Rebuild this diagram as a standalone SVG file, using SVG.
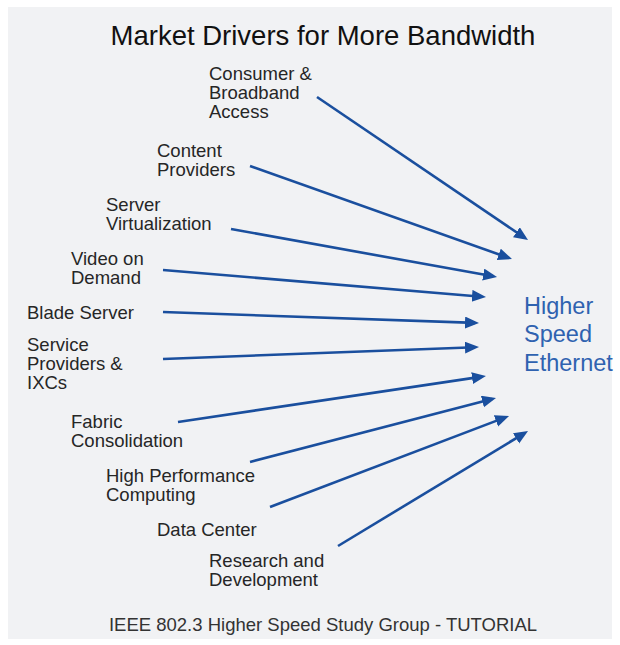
<svg xmlns="http://www.w3.org/2000/svg" width="620" height="645" viewBox="0 0 620 645">
<defs>
<style>
.lbl{font-family:"Liberation Sans",Arial,sans-serif;font-size:18.5px;fill:#262626}
.title{font-family:"Liberation Sans",Arial,sans-serif;font-size:27.5px;fill:#111}
.foot{font-family:"Liberation Sans",Arial,sans-serif;font-size:18.5px;fill:#333}
.hse{font-family:"Liberation Sans",Arial,sans-serif;font-size:23.5px;fill:#2f62b0}
.con line{stroke:#1a4f9e;stroke-width:2.6;fill:none;marker-end:url(#ah)}
</style>
<marker id="ah" markerUnits="userSpaceOnUse" markerWidth="16" markerHeight="14" refX="10" refY="6" orient="auto">
<path d="M0,0 L14,6 L0,12 z" fill="#1a4f9e"/>
</marker>
</defs>
<rect x="8" y="7" width="604" height="632" fill="#f1f2f4"/>
<text class="title" x="323" y="45" text-anchor="middle">Market Drivers for More Bandwidth</text>
<g class="con" id="connectors">
<line x1="317" y1="97" x2="524.7" y2="237.8"/>
<line x1="250" y1="166" x2="508.2" y2="257.7"/>
<line x1="231" y1="229" x2="493.1" y2="276.3"/>
<line x1="163" y1="270" x2="482" y2="296.7"/>
<line x1="163" y1="312" x2="475" y2="322.9"/>
<line x1="163" y1="359" x2="475" y2="347.2"/>
<line x1="178" y1="422" x2="482" y2="376.6"/>
<line x1="250" y1="462" x2="492.1" y2="399"/>
<line x1="270" y1="507" x2="505.3" y2="417.4"/>
<line x1="338" y1="546" x2="524.6" y2="433.1"/>
</g>
<g id="consumer"><text class="lbl" x="209" y="80">Consumer &amp;</text><text class="lbl" x="209" y="99">Broadband</text><text class="lbl" x="209" y="118">Access</text></g>
<g id="content"><text class="lbl" x="157" y="157">Content</text><text class="lbl" x="157" y="176">Providers</text></g>
<g id="server-virt"><text class="lbl" x="106" y="211">Server</text><text class="lbl" x="106" y="230">Virtualization</text></g>
<g id="video"><text class="lbl" x="71" y="265">Video on</text><text class="lbl" x="71" y="284">Demand</text></g>
<g id="blade"><text class="lbl" x="27" y="319">Blade Server</text></g>
<g id="service"><text class="lbl" x="27" y="351">Service</text><text class="lbl" x="27" y="370">Providers &amp;</text><text class="lbl" x="27" y="389">IXCs</text></g>
<g id="fabric"><text class="lbl" x="71" y="428">Fabric</text><text class="lbl" x="71" y="447">Consolidation</text></g>
<g id="hpc"><text class="lbl" x="106" y="482">High Performance</text><text class="lbl" x="106" y="501">Computing</text></g>
<g id="dc"><text class="lbl" x="157" y="536">Data Center</text></g>
<g id="rnd"><text class="lbl" x="209" y="567">Research and</text><text class="lbl" x="209" y="586">Development</text></g>
<g id="hse"><text class="hse" x="524" y="314">Higher</text><text class="hse" x="524" y="342">Speed</text><text class="hse" x="524" y="371">Ethernet</text></g>
<text class="foot" x="323" y="631" text-anchor="middle">IEEE 802.3 Higher Speed Study Group - TUTORIAL</text>
</svg>
